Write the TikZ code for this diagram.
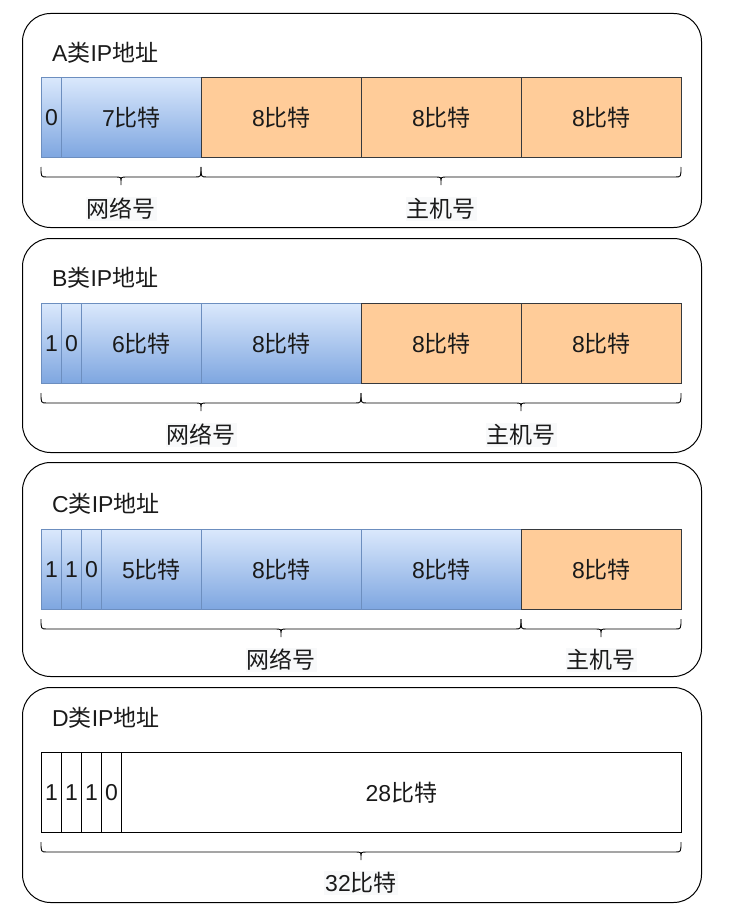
\documentclass[tikz,border=0pt]{standalone}
\usepackage{fontspec}
\setmainfont{Liberation Sans}
\newfontfamily\cjk{Noto Sans CJK SC}
\newcommand{\zh}[1]{{\cjk #1}}
\definecolor{bluetop}{HTML}{DAE8FC}
\definecolor{bluebot}{HTML}{7EA6E0}
\definecolor{bluestroke}{HTML}{6C8EBF}
\definecolor{orangefill}{HTML}{FFCC99}
\definecolor{orangestroke}{HTML}{36393D}
\definecolor{labelbg}{HTML}{F8F9FA}
\definecolor{txt}{HTML}{1A1A1A}
\tikzset{
  panel/.style={draw=black, line width=1pt, rounded corners=28pt, anchor=north west, inner sep=0pt},
  cellbase/.style={anchor=north west, inner sep=0pt, minimum height=80pt, text=txt, font=\fontsize{23}{27}\selectfont, line width=0.9pt},
  bluecell/.style={cellbase, draw=bluestroke, top color=bluetop, bottom color=bluebot},
  orangecell/.style={cellbase, draw=orangestroke, fill=orangefill},
  whitecell/.style={cellbase, draw=black, fill=white},
  titletext/.style={anchor=west, inner sep=0pt, text=txt, font=\fontsize{23}{27}\selectfont},
  labeltext/.style={inner sep=1pt, fill=labelbg, text=txt, font=\fontsize{23}{27}\selectfont},
  bracepath/.style={draw=black, line width=0.9pt}
}
% \ipbrace{x1}{x2}{ytop}
\newcommand{\ipbrace}[3]{%
  \pgfmathsetmacro{\bxm}{(#1+#2)/2}%
  \pgfmathsetmacro{\byl}{#3+10}%
  \pgfmathsetmacro{\byt}{#3+18}%
  \draw[bracepath] (#1,#3) .. controls (#1,\byl) .. ({#1+6},\byl) -- ({\bxm-6},\byl)
    .. controls (\bxm,\byl) .. (\bxm,{\byl+5}) -- (\bxm,\byt) -- (\bxm,{\byl+5})
    .. controls (\bxm,\byl) .. ({\bxm+6},\byl) -- ({#2-6},\byl) .. controls (#2,\byl) .. (#2,#3);
}
\begin{document}
\begin{tikzpicture}[x=1pt,y=-1pt]
\useasboundingbox (0,0) rectangle (748,915);
\fill[white] (0,0) rectangle (748,915);
% panels
\node[panel, minimum width=679pt, minimum height=214pt] (pA) at (22,13) {};
\node[panel, minimum width=679pt, minimum height=214pt] (pB) at (22,238) {};
\node[panel, minimum width=679pt, minimum height=214pt] (pC) at (22,462) {};
\node[panel, minimum width=679pt, minimum height=215pt] (pD) at (22,687) {};
% titles
\node[titletext] (tA) at (52,53) {A\zh{类}IP\zh{地址}};
\node[titletext] (tB) at (52,278) {B\zh{类}IP\zh{地址}};
\node[titletext] (tC) at (52,504) {C\zh{类}IP\zh{地址}};
\node[titletext] (tD) at (52,718) {D\zh{类}IP\zh{地址}};
% A
\node[bluecell, minimum width=20pt] (a1) at (41,77) {0};
\node[bluecell, minimum width=140pt] (a2) at (61,77) {7\zh{比特}};
\node[orangecell, minimum width=160pt] (a3) at (201,77) {8\zh{比特}};
\node[orangecell, minimum width=160pt] (a4) at (361,77) {8\zh{比特}};
\node[orangecell, minimum width=160pt] (a5) at (521,77) {8\zh{比特}};
\ipbrace{41}{201}{167}
\ipbrace{201}{681}{167}
\node[labeltext] (la1) at (121,209) {\zh{网络号}};
\node[labeltext] (la2) at (441,209) {\zh{主机号}};
% B
\node[bluecell, minimum width=20pt] (b1) at (41,303) {1};
\node[bluecell, minimum width=20pt] (b2) at (61,303) {0};
\node[bluecell, minimum width=120pt] (b3) at (81,303) {6\zh{比特}};
\node[bluecell, minimum width=160pt] (b4) at (201,303) {8\zh{比特}};
\node[orangecell, minimum width=160pt] (b5) at (361,303) {8\zh{比特}};
\node[orangecell, minimum width=160pt] (b6) at (521,303) {8\zh{比特}};
\ipbrace{41}{361}{393}
\ipbrace{361}{681}{393}
\node[labeltext] (lb1) at (201,435) {\zh{网络号}};
\node[labeltext] (lb2) at (521,435) {\zh{主机号}};
% C
\node[bluecell, minimum width=20pt] (c1) at (41,529) {1};
\node[bluecell, minimum width=20pt] (c2) at (61,529) {1};
\node[bluecell, minimum width=20pt] (c3) at (81,529) {0};
\node[bluecell, minimum width=100pt] (c4) at (101,529) {5\zh{比特}};
\node[bluecell, minimum width=160pt] (c5) at (201,529) {8\zh{比特}};
\node[bluecell, minimum width=160pt] (c6) at (361,529) {8\zh{比特}};
\node[orangecell, minimum width=160pt] (c7) at (521,529) {8\zh{比特}};
\ipbrace{41}{521}{619}
\ipbrace{521}{681}{619}
\node[labeltext] (lc1) at (281,660) {\zh{网络号}};
\node[labeltext] (lc2) at (601,660) {\zh{主机号}};
% D
\node[whitecell, minimum width=20pt] (d1) at (41,752) {1};
\node[whitecell, minimum width=20pt] (d2) at (61,752) {1};
\node[whitecell, minimum width=20pt] (d3) at (81,752) {1};
\node[whitecell, minimum width=20pt] (d4) at (101,752) {0};
\node[whitecell, minimum width=560pt] (d5) at (121,752) {28\zh{比特}};
\ipbrace{41}{681}{842}
\node[labeltext] (ld1) at (361,883) {32\zh{比特}};
\end{tikzpicture}
\end{document}
